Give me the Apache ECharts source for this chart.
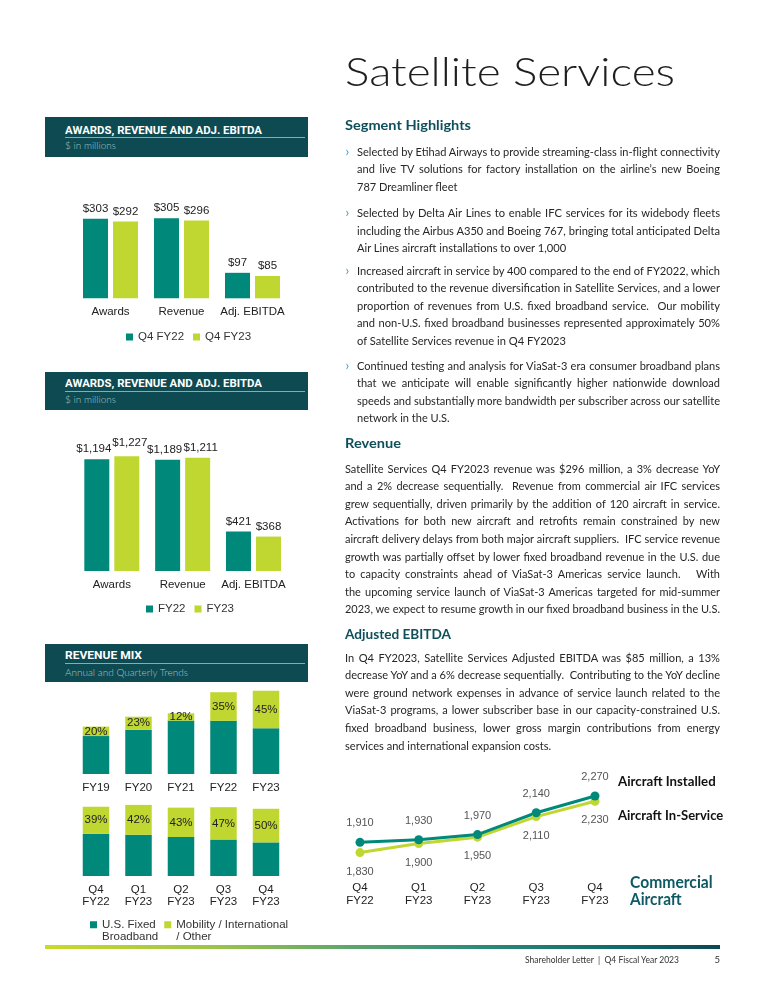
<!DOCTYPE html>
<html><head><meta charset="utf-8">
<script src="https://cdn.jsdelivr.net/npm/echarts@6/dist/echarts.min.js"></script>
<style>
html,body{margin:0;padding:0;background:#fff;}
#page{position:relative;width:765px;height:990px;overflow:hidden;background:#fff;}
#chart{position:absolute;left:0;top:0;width:765px;height:990px;z-index:1;}
.t{position:absolute;white-space:pre;transform-origin:0 0;line-height:1;z-index:2;font-family:Lato,'Noto Sans',sans-serif;}
.hbox{position:absolute;left:45px;width:263px;background:#0d4a52;z-index:2;}
.hline{position:absolute;left:65px;width:240px;height:1px;background:#8fa9ad;z-index:3;}
.para{position:absolute;transform-origin:0 0;z-index:2;font-family:Lato,'Noto Sans',sans-serif;color:#262626;}
.ln{display:block;white-space:pre;width:max-content;}
#grad{position:absolute;left:45px;top:945px;width:675px;height:4px;z-index:2;
 background:linear-gradient(to right,#cbd92a 0%,#9cc449 25%,#5fa56c 45%,#2a8a78 65%,#106a68 85%,#0c4853 100%);}
</style></head>
<body><div id="page"><div id="chart"></div><div id="grad"></div></div>
<script>
// ---------- DATA ----------
const summaryCategories = ['Awards', 'Revenue', 'Adj. EBITDA'];
const q4fy22Values = [303, 305, 97];
const q4fy23Values = [292, 296, 85];
const fy22Values = [1194, 1189, 421];
const fy23Values = [1227, 1211, 368];

const mixYears = ['FY19', 'FY20', 'FY21', 'FY22', 'FY23'];
const mixYearTotals = [689, 833, 882, 1189, 1211];
const mixYearMobilityPct = [20, 23, 12, 35, 45];

const mixQuarters = ['Q4\nFY22', 'Q1\nFY23', 'Q2\nFY23', 'Q3\nFY23', 'Q4\nFY23'];
const mixQuarterTotals = [305, 313, 301, 303, 296];
const mixQuarterMobilityPct = [39, 42, 43, 47, 50];

const aircraftQuarters = ['Q4\nFY22', 'Q1\nFY23', 'Q2\nFY23', 'Q3\nFY23', 'Q4\nFY23'];
const aircraftInstalled = [1910, 1930, 1970, 2140, 2270];
const aircraftInService = [1830, 1900, 1950, 2110, 2230];

// ---------- TEXT LAYOUT ----------
const page = document.getElementById('page');
const metrics = { Lato: 0.887, Roboto: 0.8415, 'Liberation Sans': 0.8465 };
function txt(s, o) {
  const d = document.createElement('div');
  d.className = 't';
  d.textContent = s;
  const fam = o.fam || 'Lato';
  d.style.fontFamily = "'" + fam + "', sans-serif";
  d.style.fontSize = o.f + 'px';
  d.style.fontWeight = o.wt || 400;
  d.style.color = o.c || '#333';
  d.style.left = o.x + 'px';
  d.style.top = (o.b - metrics[fam] * o.f) + 'px';
  if (o.ls) d.style.letterSpacing = o.ls + 'px';
  page.appendChild(d);
  if (o.w) {
    const nw = d.getBoundingClientRect().width;
    d.style.transform = 'scaleX(' + (o.w / nw) + ')';
  }
  return d;
}
function box(top, h) {
  const b = document.createElement('div'); b.className = 'hbox';
  b.style.top = top + 'px'; b.style.height = h + 'px'; page.appendChild(b);
}
function hline(y) {
  const l = document.createElement('div'); l.className = 'hline';
  l.style.top = y + 'px'; page.appendChild(l);
}
// Left header boxes
const headers = [
  { top: 117, h: 40, title: 'AWARDS, REVENUE AND ADJ. EBITDA', sub: '$ in millions', tb: 134.2, ly: 137, sb: 149.8, sw: 51 },
  { top: 372, h: 38, title: 'AWARDS, REVENUE AND ADJ. EBITDA', sub: '$ in millions', tb: 388.1, ly: 391, sb: 403.6, sw: 51 },
  { top: 644, h: 38, title: 'REVENUE MIX', sub: 'Annual and Quarterly Trends', tb: 659.8, ly: 663, sb: 676, sw: 123 }
];
headers.forEach(h => {
  box(h.top, h.h);
  hline(h.ly);
  txt(h.title, { fam: 'Roboto', f: 11.5, wt: 700, c: '#ffffff', x: 65, b: h.tb, w: h.title === 'REVENUE MIX' ? 77 : 197 });
  txt(h.sub, { f: 10.5, wt: 300, c: '#a9c3c6', x: 65, b: h.sb, w: h.sw });
});

// Right column
txt('Satellite Services', { f: 39, wt: 300, c: '#1e1e1e', x: 345, b: 86.7, w: 330 });
const teal = '#0f4f5b';
txt('Segment Highlights', { f: 14, wt: 700, c: teal, x: 345, b: 130.5, w: 126 });
txt('Revenue', { f: 14, wt: 700, c: teal, x: 345, b: 448, w: 56 });
txt('Adjusted EBITDA', { f: 14, wt: 700, c: teal, x: 345, b: 639, w: 106 });

const F = 12, L = 17.6;
const paras = [
  { x: 357, c0: 153, w: 363, bullet: true, last: false, lines: [
    'Selected by Etihad Airways to provide streaming-class in-flight connectivity',
    'and live TV solutions for factory installation on the airline\u2019s new Boeing',
    '787 Dreamliner fleet'] },
  { x: 357, c0: 214.5, w: 363, bullet: true, last: false, lines: [
    'Selected by Delta Air Lines to enable IFC services for its widebody fleets',
    'including the Airbus A350 and Boeing 767, bringing total anticipated Delta',
    'Air Lines aircraft installations to over 1,000'] },
  { x: 357, c0: 272, w: 363, bullet: true, last: false, lines: [
    'Increased aircraft in service by 400 compared to the end of FY2022, which',
    'contributed to the revenue diversification in Satellite Services, and a lower',
    'proportion of revenues from U.S. fixed broadband service.  Our mobility',
    'and non-U.S. fixed broadband businesses represented approximately 50%',
    'of Satellite Services revenue in Q4 FY2023'] },
  { x: 357, c0: 367, w: 363, bullet: true, last: false, lines: [
    'Continued testing and analysis for ViaSat-3 era consumer broadband plans',
    'that we anticipate will enable significantly higher nationwide download',
    'speeds and substantially more bandwidth per subscriber across our satellite',
    'network in the U.S.'] },
  { x: 345, c0: 470, w: 375, bullet: false, last: true, lines: [
    'Satellite Services Q4 FY2023 revenue was $296 million, a 3% decrease YoY',
    'and a 2% decrease sequentially.  Revenue from commercial air IFC services',
    'grew sequentially, driven primarily by the addition of 120 aircraft in service.',
    'Activations for both new aircraft and retrofits remain constrained by new',
    'aircraft delivery delays from both major aircraft suppliers.  IFC service revenue',
    'growth was partially offset by lower fixed broadband revenue in the U.S. due',
    'to capacity constraints ahead of ViaSat-3 Americas service launch.   With',
    'the upcoming service launch of ViaSat-3 Americas targeted for mid-summer',
    '2023, we expect to resume growth in our fixed broadband business in the U.S.'] },
  { x: 345, c0: 659, w: 375, bullet: false, last: false, lines: [
    'In Q4 FY2023, Satellite Services Adjusted EBITDA was $85 million, a 13%',
    'decrease YoY and a 6% decrease sequentially.  Contributing to the YoY decline',
    'were ground network expenses in advance of service launch related to the',
    'ViaSat-3 programs, a lower subscriber base in our capacity-constrained U.S.',
    'fixed broadband business, lower gross margin contributions from energy',
    'services and international expansion costs.'] }
];
paras.forEach(p => {
  const d = document.createElement('div');
  d.className = 'para';
  d.style.fontSize = F + 'px';
  d.style.lineHeight = L + 'px';
  d.style.left = p.x + 'px';
  d.style.top = (p.c0 - L / 2 - 0.134 * F) + 'px';
  p.lines.forEach(s => { const sp = document.createElement('span'); sp.className = 'ln'; sp.textContent = s; d.appendChild(sp); });
  page.appendChild(d);
  const spans = Array.from(d.children);
  const ws = spans.map(s => s.getBoundingClientRect().width);
  const just = i => i < spans.length - 1 || p.last;
  let sc = 1;
  spans.forEach((s, i) => { if (just(i)) sc = Math.min(sc, p.w / ws[i]); });
  spans.forEach((s, i) => {
    if (just(i)) {
      const n = (s.textContent.match(/ /g) || []).length;
      s.style.wordSpacing = ((p.w / sc - ws[i]) / n) + 'px';
    }
  });
  d.style.transform = 'scaleX(' + sc + ')';
  if (p.bullet) txt('\u203A', { f: 13, wt: 400, c: '#37a3c4', x: 345.5, b: p.c0 + 3.5 });
});

// Line chart side labels
txt('Aircraft Installed', { f: 12.5, wt: 700, c: '#111', x: 617.5, b: 787.2, w: 97.7 });
txt('Aircraft In-Service', { f: 12.5, wt: 700, c: '#111', x: 617.5, b: 821.2, w: 105.3 });
txt('Commercial', { f: 16.3, wt: 700, c: '#0e5a63', x: 630, b: 888.4, w: 82.7 });
txt('Aircraft', { f: 16.3, wt: 700, c: '#0e5a63', x: 630, b: 905.7, w: 51.7 });
// Footer
txt('Shareholder Letter  |  Q4 Fiscal Year 2023', { f: 9.5, wt: 400, c: '#333', x: 525, b: 963, w: 154 });
txt('5', { f: 9.5, wt: 400, c: '#333', x: 714.5, b: 963 });

// ---------- CHART ----------
const FF = "'Liberation Sans', Arial, sans-serif";
const TEAL = '#00897b', LIME = '#c0d731';
const chart = echarts.init(document.getElementById('chart'), null, { renderer: 'canvas' });
const money = p => '$' + Number(p.value).toLocaleString('en-US');
const catAxis = (gi, data, margin, lh) => ({
  gridIndex: gi, type: 'category', data: data,
  axisLine: { show: false }, axisTick: { show: false }, splitLine: { show: false },
  axisLabel: { margin: margin, fontSize: 11.5, color: '#222', fontFamily: FF, lineHeight: lh || 13, interval: 0 }
});
const valAxis = (gi, min, max) => ({ gridIndex: gi, type: 'value', min: min, max: max, show: false });
const gridOpt = (l, t, w, h) => ({ left: l, top: t, width: w, height: h, containLabel: false, outerBoundsMode: 'none' });
const valLabel = { show: true, position: 'top', distance: 4, fontSize: 11.5, color: '#222', fontFamily: FF, formatter: money };

const yearFixed = mixYearTotals.map((t, i) => t * (100 - mixYearMobilityPct[i]) / 100);
const yearMob = mixYearTotals.map((t, i) => t * mixYearMobilityPct[i] / 100);
const qFixed = mixQuarterTotals.map((t, i) => t * (100 - mixQuarterMobilityPct[i]) / 100);
const qMob = mixQuarterTotals.map((t, i) => t * mixQuarterMobilityPct[i] / 100);
const FIXED = 'U.S. Fixed\nBroadband', MOB = 'Mobility / International\n/ Other';
const legIcon = 'path://M0 0H7V7H0Z M0 19H0.01V19.01H0Z';

chart.setOption({
  animation: false,
  textStyle: { fontFamily: FF },
  grid: [
    gridOpt(75, 193.2, 213, 105.1),
    gridOpt(76.4, 430.7, 212.5, 140.3),
    gridOpt(74.75, 677.7, 212.5, 96.3),
    gridOpt(74.75, 796.5, 212.5, 79.5),
    gridOpt(330.6, 792.2, 293.75, 64.24)
  ],
  xAxis: [
    catAxis(0, summaryCategories, 7),
    catAxis(1, summaryCategories, 7.5),
    catAxis(2, mixYears, 7),
    catAxis(3, mixQuarters, 8, 12),
    catAxis(4, aircraftQuarters, 24.6, 13.3)
  ],
  yAxis: [
    valAxis(0, 0, 400), valAxis(1, 0, 1500), valAxis(2, 0, 1400), valAxis(3, 0, 350), valAxis(4, 1800, 2300)
  ],
  legend: [
    { data: ['Q4 FY22', 'Q4 FY23'], left: 126, top: 331, padding: 0, itemWidth: 7, itemHeight: 7, itemGap: 9, icon: 'rect',
      textStyle: { fontSize: 11.5, color: '#333', fontFamily: FF } },
    { data: ['FY22', 'FY23'], left: 146, top: 603, padding: 0, itemWidth: 7, itemHeight: 7, itemGap: 9, icon: 'rect',
      textStyle: { fontSize: 11.5, color: '#333', fontFamily: FF } },
    { data: [FIXED, MOB], left: 90, top: 919, padding: 0, itemWidth: 7, itemHeight: 19, itemGap: 6, icon: legIcon,
      textStyle: { fontSize: 11.5, color: '#333', fontFamily: FF, lineHeight: 11.7 } }
  ],
  series: [
    { name: 'Q4 FY22', type: 'bar', xAxisIndex: 0, yAxisIndex: 0, data: q4fy22Values, barWidth: 25, barGap: '20%',
      itemStyle: { color: TEAL }, label: valLabel },
    { name: 'Q4 FY23', type: 'bar', xAxisIndex: 0, yAxisIndex: 0, data: q4fy23Values, barWidth: 25, barGap: '20%',
      itemStyle: { color: LIME }, label: valLabel },
    { name: 'FY22', type: 'bar', xAxisIndex: 1, yAxisIndex: 1, barWidth: 25, barGap: '20%', itemStyle: { color: TEAL },
      label: valLabel,
      data: fy22Values.map((v, i) => ({ value: v, label: { offset: [i < 2 ? -3 : 0, 0] } })) },
    { name: 'FY23', type: 'bar', xAxisIndex: 1, yAxisIndex: 1, barWidth: 25, barGap: '20%', itemStyle: { color: LIME },
      label: valLabel,
      data: fy23Values.map((v, i) => ({ value: v, label: { offset: [i < 2 ? 3 : 0, i === 0 ? -3 : 0] } })) },
    { name: FIXED, type: 'bar', stack: 'yr', xAxisIndex: 2, yAxisIndex: 2, barWidth: 26.5, data: yearFixed,
      itemStyle: { color: TEAL } },
    { name: MOB, type: 'bar', stack: 'yr', xAxisIndex: 2, yAxisIndex: 2, barWidth: 26.5, data: yearMob,
      itemStyle: { color: LIME },
      label: { show: true, position: 'inside', fontSize: 11.5, color: '#222', fontFamily: FF,
        formatter: p => mixYearMobilityPct[p.dataIndex] + '%' } },
    { name: FIXED, type: 'bar', stack: 'q', xAxisIndex: 3, yAxisIndex: 3, barWidth: 26.5, data: qFixed,
      itemStyle: { color: TEAL } },
    { name: MOB, type: 'bar', stack: 'q', xAxisIndex: 3, yAxisIndex: 3, barWidth: 26.5, data: qMob,
      itemStyle: { color: LIME },
      label: { show: true, position: 'inside', fontSize: 11.5, color: '#222', fontFamily: FF,
        formatter: p => mixQuarterMobilityPct[p.dataIndex] + '%' } },
    { name: 'Aircraft In-Service', type: 'line', xAxisIndex: 4, yAxisIndex: 4, data: aircraftInService,
      symbol: 'circle', symbolSize: 9, lineStyle: { color: LIME, width: 3 }, itemStyle: { color: LIME },
      label: { show: true, position: 'bottom', distance: 9, fontSize: 11, color: '#555', fontFamily: FF,
        formatter: p => p.value.toLocaleString('en-US') } },
    { name: 'Aircraft Installed', type: 'line', xAxisIndex: 4, yAxisIndex: 4, data: aircraftInstalled,
      symbol: 'circle', symbolSize: 9, lineStyle: { color: TEAL, width: 3 }, itemStyle: { color: TEAL },
      label: { show: true, position: 'top', distance: 9, fontSize: 11, color: '#555', fontFamily: FF,
        formatter: p => p.value.toLocaleString('en-US') } }
  ]
});
</script>
</body></html>
